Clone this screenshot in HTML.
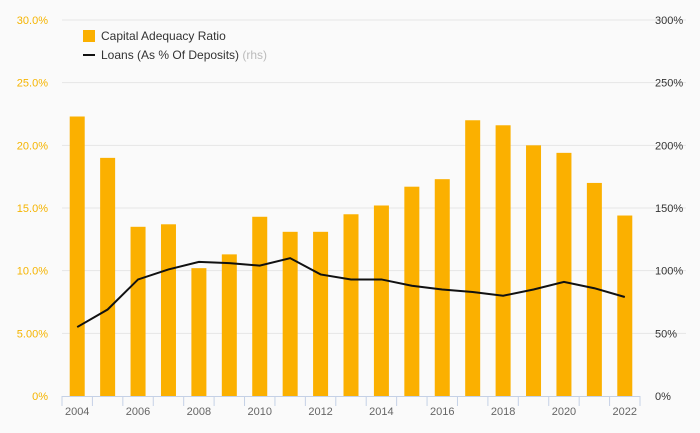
<!DOCTYPE html>
<html><head><meta charset="utf-8"><style>
body{margin:0;background:#fafafa;font-family:"Liberation Sans",sans-serif}
svg{display:block}
</style></head><body>
<svg id="c" width="700" height="433"></svg>
<script>
const years=[2004,2005,2006,2007,2008,2009,2010,2011,2012,2013,2014,2015,2016,2017,2018,2019,2020,2021,2022];
const car=[22.3,19.0,13.5,13.7,10.2,11.3,14.3,13.1,13.1,14.5,15.2,16.7,17.3,22.0,21.6,20.0,19.4,17.0,14.4];
const loans=[55,69,93,101,107,106,104,110,97,93,93,88,85,83,80,85,91,86,79];
const leftTicks=[0,5,10,15,20,25,30];
const leftLabels=["0%","5.00%","10.0%","15.0%","20.0%","25.0%","30.0%"];
const rightTicks=[0,50,100,150,200,250,300];
const rightLabels=["0%","50%","100%","150%","200%","250%","300%"];
const NS="http://www.w3.org/2000/svg";
const svg=document.getElementById('c');
const X0=62,X1=640,Y0=396,Y1=20;
const bw=(X1-X0)/years.length;
const yL=v=>Y0-(v/30)*(Y0-Y1);
const yR=v=>Y0-(v/300)*(Y0-Y1);
const xC=i=>X0+bw*(i+0.5);
function mk(t,a,txt){const e=document.createElementNS(NS,t);for(const k in a)e.setAttribute(k,a[k]);if(txt!=null)e.textContent=txt;svg.appendChild(e);return e;}
leftTicks.forEach((v,i)=>{
 if(v>0){const g=mk('line',{x1:X0,x2:X1+46,y1:yL(v),y2:yL(v),stroke:'#e6e6e6','stroke-width':1});
 
 }
 const t=mk('text',{x:48,y:yL(v)+4,'text-anchor':'end','font-size':11,fill:'#f5b400'},leftLabels[i]);
 
 
});
rightTicks.forEach((v,i)=>{
 const t=mk('text',{x:655,y:yR(v)+4,'font-size':11,fill:'#333'},rightLabels[i]);
 
 
});
car.forEach((v,i)=>{
 const r=mk('rect',{x:xC(i)-7.5,y:yL(v),width:15,height:Y0-yL(v),fill:'#fbb000'});
 
 
});
const ax=mk('line',{x1:X0,x2:X1,y1:Y0+0.5,y2:Y0+0.5,stroke:'#c5d1e6'});


for(let i=0;i<=years.length;i++){const tk=mk('line',{x1:X0+bw*i,x2:X0+bw*i,y1:Y0,y2:Y0+10,stroke:'#c5d1e6'});
 
 }
years.forEach((y,i)=>{if(i%2==0){const t=mk('text',{x:xC(i),y:415,'text-anchor':'middle','font-size':11,fill:'#666'},y);
 
 }});
const p=mk('polyline',{points:loans.map((v,i)=>xC(i)+','+yR(v)).join(' '),fill:'none',stroke:'#111','stroke-width':2});


const l1=mk('rect',{x:83,y:30,width:12,height:12,fill:'#fbb000'});


const t1=mk('text',{x:101,y:40,'font-size':12,fill:'#333'},'Capital Adequacy Ratio');


const l2=mk('line',{x1:83,x2:95,y1:55,y2:55,stroke:'#111','stroke-width':2});


const t2=mk('text',{x:101,y:59,'font-size':12,fill:'#333'},'Loans (As % Of Deposits) ');


const ts=document.createElementNS(NS,'tspan');ts.setAttribute('fill','#bbb');ts.textContent='(rhs)';t2.appendChild(ts);
</script>
</body></html>
